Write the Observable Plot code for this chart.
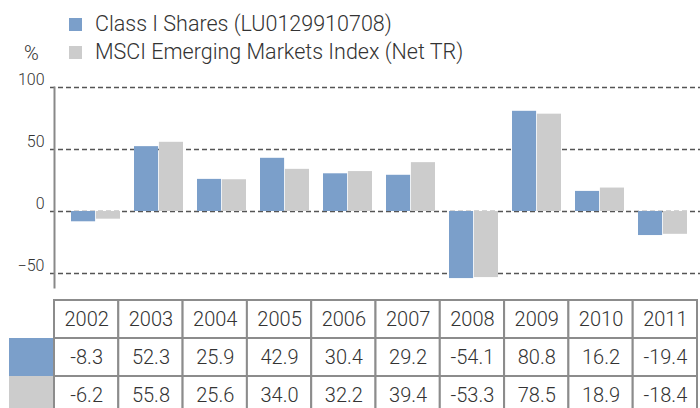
<!DOCTYPE html>
<html>
<head>
<meta charset="utf-8">
<script src="https://cdn.jsdelivr.net/npm/d3@7"></script>
<script src="https://cdn.jsdelivr.net/npm/@observablehq/plot@0.6"></script>
<style>
  html, body { margin: 0; padding: 0; background: #fff; }
  body { width: 700px; height: 408px; overflow: hidden; position: relative;
         font-family: Roboto, "Liberation Sans", sans-serif; font-weight: 300; color: #333; }
  #legend { position: absolute; left: 0; top: 0; z-index: 2; }
  .sw { position: absolute; width: 13px; height: 13px; }
  .lt { position: absolute; font-size: 21.5px; line-height: 22px; white-space: nowrap; }
  #chart { position: absolute; left: 0; top: 55px; z-index: 1; }
  #table { position: absolute; left: 0; top: 295px; height: 113px; overflow: hidden; }
  svg { font-family: Roboto, "Liberation Sans", sans-serif; font-weight: 300; background: transparent !important; }
</style>
</head>
<body>
<div id="chart"></div>
<div id="table"></div>
<div id="legend"></div>
<script>
const years = ["2002","2003","2004","2005","2006","2007","2008","2009","2010","2011"];
const fundValues = [-8.3, 52.3, 25.9, 42.9, 30.4, 29.2, -54.1, 80.8, 16.2, -19.4];
const indexValues = [-6.2, 55.8, 25.6, 34.0, 32.2, 39.4, -53.3, 78.5, 18.9, -18.4];
const seriesNames = ["Class I Shares (LU0129910708)", "MSCI Emerging Markets Index (Net TR)"];
const seriesColors = ["#7b9fca", "#cccccc"];
const yTicks = [-50, 0, 50, 100];
const unitLabel = "%";

// Legend
const legend = document.getElementById("legend");
seriesNames.forEach((name, i) => {
  const top = i === 0 ? 18 : 46;
  const sw = document.createElement("div");
  sw.className = "sw";
  sw.style.left = "69px"; sw.style.top = top + "px"; sw.style.background = seriesColors[i];
  legend.appendChild(sw);
  const t = document.createElement("div");
  t.className = "lt";
  t.style.left = "95px"; t.style.top = (top - 5) + "px";
  t.textContent = name;
  legend.appendChild(t);
});
const pct = document.createElement("div");
pct.className = "lt"; pct.style.left = "24px"; pct.style.top = "42px"; pct.style.fontSize = "20px";
pct.textContent = unitLabel;
legend.appendChild(pct);

// Chart
const rows = years.map((y, i) => ({year: y, fund: fundValues[i], index: indexValues[i]}));
const chart = Plot.plot({
  width: 700, height: 240,
  marginTop: 32, marginBottom: 8, marginLeft: 54, marginRight: 0,
  x: {type: "band", domain: years, range: [66.7, 692], paddingInner: 0.22, paddingOuter: 0, axis: null},
  y: {domain: [-61.3, 100], axis: null},
  marks: [
    Plot.ruleY(yTicks, {stroke: "#555", strokeWidth: 1.3, strokeDasharray: "5,3", insetLeft: -4}),
    Plot.barY(rows, {x: "year", y: "fund", fill: seriesColors[0], insetRight: 24.9}),
    Plot.barY(rows, {x: "year", y: "index", fill: seriesColors[1], insetLeft: 24.9}),
    Plot.axisY({ticks: yTicks, tickSize: 0, tickPadding: 10, dy: -8, fontSize: 16, fill: "#333", label: null}),
    Plot.frame({anchor: "left", stroke: "#888", strokeWidth: 2})
  ]
});
document.getElementById("chart").appendChild(chart);

// Table
const cells = [];
years.forEach((y, i) => {
  cells.push({col: i, row: 0, label: y});
  cells.push({col: i, row: 1, label: fundValues[i].toFixed(1)});
  cells.push({col: i, row: 2, label: indexValues[i].toFixed(1)});
});
const swatches = seriesColors.map((c, i) => ({col: -1, row: i + 1, color: c}));
const table = Plot.plot({
  width: 700, height: 113,
  margin: 0,
  x: {type: "linear", domain: [0, 10], range: [54, 697], axis: null},
  y: {type: "linear", domain: [0, 3], range: [5, 119], axis: null},
  marks: [
    Plot.rect(swatches, {x1: "col", x2: d => d.col + 1, y1: "row", y2: d => d.row + 1, fill: "color", insetLeft: 19.3}),
    Plot.rect(cells, {x1: "col", x2: d => d.col + 1, y1: "row", y2: d => d.row + 1, fill: "white", stroke: "#8c8c8c", strokeWidth: 2}),
    Plot.text(cells, {x: d => d.col + 0.5, y: d => d.row + 0.5, text: "label", fontSize: 20, fill: "#333"})
  ]
});
document.getElementById("table").appendChild(table);
</script>
</body>
</html>
